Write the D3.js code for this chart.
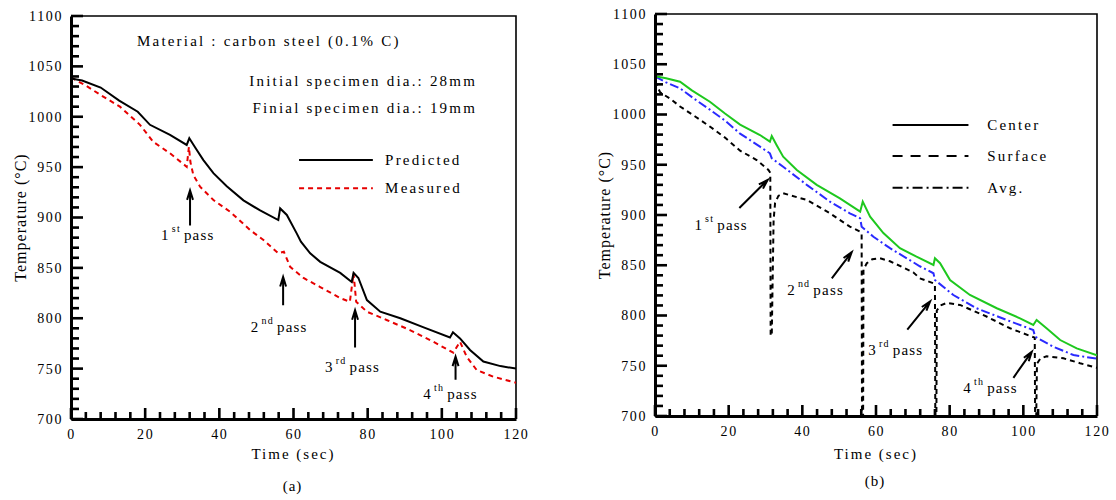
<!DOCTYPE html>
<html><head><meta charset="utf-8">
<script src="https://cdn.jsdelivr.net/npm/d3@7"></script>
<style>
body{margin:0;background:#fff}
svg text{font-family:"Liberation Serif","Times New Roman",serif;fill:#000}
</style></head><body>
<svg width="1116" height="500"></svg>
<script>
// ---- data ----
const majorX = [0, 20, 40, 60, 80, 100, 120];
const minorX = d3.range(0, 121, 4);
const majorY = [700, 750, 800, 850, 900, 950, 1000, 1050, 1100];
const minorY = d3.range(700, 1101, 10);

// (a) predicted vs measured
const predT = [0,3,8,13,18,21.3,26.7,31.2,31.9,33.4,35.7,38.4,42,46.5,51,55.9,56.4,58.2,60.9,62,64.5,67.2,72.6,75.7,76.2,77.5,79.8,83.4,88.8,95.1,102.2,103,104.9,107.6,111.2,115.8,120];
const predY = [1038,1036,1029,1016,1005,992,982,972,978.6,970,957,944,931,917,907,897.5,909,902.5,884,876,864.5,856,845,836,845,840,818,806.5,800,791,781,786,780,768.5,757,752.5,750];
const measT = [0,4,7.8,13.2,18.6,22.2,26.7,31.2,31.8,32.2,33,34.8,38.4,42.9,48.3,51.9,55.9,57.4,59.1,62.7,67.2,72.6,75.2,76.2,76.9,79.8,85.1,91.4,97.7,103.1,104.9,106.7,109.4,113.9,120];
const measY = [1039,1031,1022,1010,992,975,963.7,950.4,970,955,942,930.6,917.4,905.7,887.6,877.7,864.4,866,851,840,831,820,816.4,844.6,816.4,806.5,798.3,788.3,776.7,765.8,776.7,761.8,748.6,742,736];

// (b) center / surface / average
const cenT = [0,3,6.8,10,14.9,19,23.1,28.5,31.2,31.7,33,34.8,38.5,43.9,50.2,55.7,56.4,58.4,62,66.5,71,75.6,76,77.4,80.1,85.5,92.8,99.1,102.7,103.6,106.3,110,114.5,120];
const cenY = [1038,1036,1032.6,1024,1012.7,1001,990,979.6,973,978.6,969.7,958,944.8,930,916.6,903.3,913.3,898.3,882,867,858.5,850.3,857,852,835.3,820.4,807.2,797.2,790.6,795.5,787.3,775.6,767.3,760.5];
const avgT = [0,3,6.8,10.9,14.9,19,23.1,28.5,31.2,31.7,34.8,41.2,47.5,52.9,55.7,56.1,59.3,63.8,70.1,71.9,75.6,76,81,87.3,95.5,102.7,103.2,108.1,113.6,120];
const avgY = [1038,1032,1026,1015,1004.8,994,981,968,961.4,956.4,948,930,913.3,901.7,896.7,888.4,878.4,867,853,849,842,835.3,820.4,807.2,795.5,785.6,779,769,760.7,757];
const surT = [0,1.4,4,6.8,10.9,14.9,19,23.1,27.6,30.8,31.3,31.4,31.7,32.2,32.6,33.5,34.8,41.2,47.5,52.9,55.7,56.1,56.2,56.5,56.6,57.5,59,61,63.8,70.1,71.9,75.6,76,76.1,76.4,76.5,77.5,79.2,82.8,90,96.4,102.3,103.1,103.2,103.5,103.7,104.6,106.3,110.9,115.4,120];
const surY = [1033,1022,1016,1008,998,988,977,964,954.7,944.8,942,780,780,895,912,919,921.6,915,901.7,888.4,883.4,882,700,700,846,852,856,857,854,843,837,832,831,700,700,805,810,812.5,810.5,799,787.3,779,778,700,700,752,757,759.5,757.4,752.5,748];

const passLabels = [["1", "st"], ["2", "nd"], ["3", "rd"], ["4", "th"]];
// arrows [t0,T0,t1,T1] and label anchors [t,T]
const arrowsA = [[32.1,892,32.1,927],[57.2,813,57.2,841],[76.6,771,76.6,808],[103.7,739,103.7,762]];
const labelsA = [[24.3,878],[48.5,786],[68.5,747],[95,720]];
const arrowsB = [[22.9,907,30.6,935],[48,837,53.4,863],[68.5,786,74.7,814],[97.3,738,102.3,764]];
const labelsB = [[10.7,885],[35.9,820],[57.9,761],[83.7,723]];

const svg = d3.select('svg');

function zip(a, b) { return a.map((v, i) => [v, b[i]]); }

function panel(o) {
  const x = d3.scaleLinear().domain([0, 120]).range([o.x0, o.x1]);
  const y = d3.scaleLinear().domain([700, 1100]).range([o.y0, o.y1]);
  const g = svg.append('g');

  const clipId = 'clip' + o.name;
  g.append('clipPath').attr('id', clipId).append('rect')
    .attr('x', o.x0).attr('y', o.y1).attr('width', o.x1 - o.x0).attr('height', o.y0 - o.y1 + 1);

  // border top / right
  g.append('path').attr('d', `M${o.x0},${o.y1}H${o.x1}V${o.y0}`)
    .attr('fill', 'none').attr('stroke', '#000').attr('stroke-width', 1.6);

  // series
  const line = d3.line().x(d => x(d[0])).y(d => y(d[1]));
  o.series.forEach(s => {
    g.append('path').datum(zip(s.t, s.v))
      .attr('clip-path', `url(#${clipId})`)
      .attr('d', line).attr('fill', 'none')
      .attr('stroke', s.color).attr('stroke-width', 2)
      .attr('stroke-dasharray', s.dash || null);
  });

  // inward tick marks
  const tk = g.append('g').attr('stroke', '#000').attr('stroke-width', 2.6);
  tk.selectAll('.ty').data(minorY).join('line').attr('class', 'ty')
    .attr('x1', o.x0).attr('x2', d => o.x0 + (d % 50 === 0 ? 12 : 8))
    .attr('y1', d => y(d)).attr('y2', d => y(d));
  tk.selectAll('.tx').data(minorX).join('line').attr('class', 'tx')
    .attr('x1', d => x(d)).attr('x2', d => x(d))
    .attr('y1', o.y0).attr('y2', d => o.y0 - (d % 20 === 0 ? 11 : 7));

  // axes (line + labels)
  const ax = g.append('g');
  ax.append('g').attr('transform', `translate(${o.x0},0)`)
    .call(d3.axisLeft(y).tickValues(majorY).tickSize(0).tickPadding(8).tickFormat(d3.format('d')));
  ax.append('g').attr('transform', `translate(0,${o.y0})`)
    .call(d3.axisBottom(x).tickValues(majorX).tickSize(0).tickPadding(10).tickFormat(d3.format('d')));
  ax.selectAll('.domain').attr('stroke', '#000').attr('stroke-width', 3);
  ax.selectAll('text').attr('font-size', 14).style('letter-spacing', '1.6px')
    .attr('font-family', '"Liberation Serif", serif');

  // axis titles
  g.append('text').attr('x', (o.x0 + o.x1) / 2).attr('y', 459)
    .attr('text-anchor', 'middle').attr('font-size', 15).style('letter-spacing', '2px').text('Time (sec)');
  g.append('text').attr('transform', `translate(${o.x0 - 45},${(o.y0 + o.y1) / 2}) rotate(-90)`)
    .attr('text-anchor', 'middle').attr('font-size', 16).style('letter-spacing', '1px').text('Temperature (°C)');
  g.append('text').attr('x', (o.x0 + o.x1) / 2 - 1).attr('y', o.capY)
    .attr('text-anchor', 'middle').attr('font-size', 15).style('letter-spacing', '1px').text(o.caption);

  // arrows + pass labels
  o.arrows.forEach(a => {
    const x0 = x(a[0]), y0 = y(a[1]), x1 = x(a[2]), y1 = y(a[3]);
    const ang = Math.atan2(y1 - y0, x1 - x0);
    const hl = 10, hw = 0.3;
    g.append('path')
      .attr('d', `M${x0},${y0}L${x1},${y1}` +
        `M${x1 - hl * Math.cos(ang - hw)},${y1 - hl * Math.sin(ang - hw)}L${x1},${y1}` +
        `L${x1 - hl * Math.cos(ang + hw)},${y1 - hl * Math.sin(ang + hw)}` +
        `M${x1 - hl * 0.9 * Math.cos(ang)},${y1 - hl * 0.9 * Math.sin(ang)}L${x1},${y1}`)
      .attr('fill', 'none').attr('stroke', '#000').attr('stroke-width', 2);
  });
  o.labels.forEach((p, i) => {
    const t = g.append('text').attr('x', x(p[0])).attr('y', y(p[1])).attr('font-size', 15).style('letter-spacing', '1.2px');
    t.append('tspan').text(passLabels[i][0]);
    t.append('tspan').attr('font-size', 10).attr('dy', -8).attr('dx', 2).text(passLabels[i][1]);
    t.append('tspan').attr('dy', 8).attr('dx', 3).text('pass');
  });

  return { g, x, y };
}

// ---- panel (a) ----
const A = panel({
  name: 'a', x0: 71, x1: 516, y0: 419, y1: 16, caption: '(a)', capY: 491,
  series: [
    { t: measT, v: measY, color: '#e60000', dash: '5,4' },
    { t: predT, v: predY, color: '#000' }
  ],
  arrows: arrowsA, labels: labelsA
});
const noteStyle = sel => sel.attr('font-size', 15).style('letter-spacing', '2.2px');
A.g.append('text').attr('x', A.x(17.8)).attr('y', A.y(1070)).call(noteStyle).text('Material : carbon steel (0.1% C)');
A.g.append('text').attr('x', A.x(109.5)).attr('y', A.y(1031)).attr('text-anchor', 'end').call(noteStyle).text('Initial specimen dia.: 28mm');
A.g.append('text').attr('x', A.x(109.5)).attr('y', A.y(1004)).attr('text-anchor', 'end').call(noteStyle).text('Finial specimen dia.: 19mm');

const legA = [['Predicted', '#000', null, 957], ['Measured', '#e60000', '5,4', 929]];
legA.forEach(l => {
  A.g.append('line').attr('x1', A.x(61.5)).attr('x2', A.x(81.4)).attr('y1', A.y(l[3])).attr('y2', A.y(l[3]))
    .attr('stroke', l[1]).attr('stroke-width', 2).attr('stroke-dasharray', l[2]);
  A.g.append('text').attr('x', A.x(84.7)).attr('y', A.y(l[3]) + 5).call(noteStyle).text(l[0]);
});

// ---- panel (b) ----
const B = panel({
  name: 'b', x0: 655, x1: 1097, y0: 416, y1: 14, caption: '(b)', capY: 486,
  series: [
    { t: surT, v: surY, color: '#000', dash: '5,4' },
    { t: avgT, v: avgY, color: '#2a2aff', dash: '9,3,2,3' },
    { t: cenT, v: cenY, color: '#1ec81e' }
  ],
  arrows: arrowsB, labels: labelsB
});
const legB = [['Center', null, 989.5], ['Surface', '10,8', 958.7], ['Avg.', '10,4,2,4', 927]];
legB.forEach(l => {
  B.g.append('line').attr('x1', B.x(64.5)).attr('x2', B.x(85.1)).attr('y1', B.y(l[2])).attr('y2', B.y(l[2]))
    .attr('stroke', '#000').attr('stroke-width', 2).attr('stroke-dasharray', l[1]);
  B.g.append('text').attr('x', B.x(90.2)).attr('y', B.y(l[2]) + 5).call(noteStyle).text(l[0]);
});
</script>
</body></html>
